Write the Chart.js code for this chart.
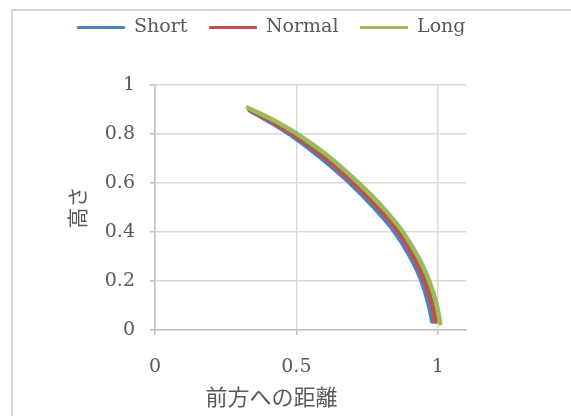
<!DOCTYPE html>
<html>
<head>
<meta charset="utf-8">
<script src="https://cdn.jsdelivr.net/npm/chart.js@4"></script>
<style>
  html, body { margin: 0; padding: 0; background: #fff; overflow: hidden; }
  #wrap { position: relative; width: 571px; height: 416px; }
  #c { position: absolute; left: 0; top: 0; }
  #frame {
    position: absolute; left: 11px; top: 9px; width: 600px; height: 450px;
    border-top: 2px solid #d4d4d4; border-left: 2px solid #d9d9d9;
    pointer-events: none;
  }
</style>
</head>
<body>
<div id="wrap"><canvas id="c" width="571" height="416"></canvas><div id="frame"></div></div>
<script>
// Trajectory curves: forward distance (x) vs height (y)
const seriesNames = ['Short', 'Normal', 'Long'];
const seriesColors = ['#4f81bd', '#c0504d', '#9bbb59'];

const shortX  = [0.336, 0.42, 0.50, 0.59, 0.69, 0.775, 0.848, 0.902, 0.943, 0.969, 0.981];
const shortY  = [0.896, 0.840, 0.780, 0.700, 0.600, 0.500, 0.400, 0.300, 0.200, 0.100, 0.034];
const normalX = [0.333, 0.42, 0.50, 0.60, 0.703, 0.79, 0.862, 0.915, 0.955, 0.982, 0.993];
const normalY = [0.900, 0.846, 0.790, 0.705, 0.600, 0.500, 0.400, 0.300, 0.200, 0.100, 0.034];
const longX   = [0.328, 0.42, 0.50, 0.61, 0.720, 0.806, 0.877, 0.930, 0.970, 0.997, 1.009];
const longY   = [0.907, 0.856, 0.802, 0.712, 0.600, 0.500, 0.400, 0.300, 0.200, 0.100, 0.027];

const xTicks = [0, 0.5, 1];
const yTicks = [0, 0.2, 0.4, 0.6, 0.8, 1];
const xTitle = '前方への距離';
const yTitle = '高さ';

const toPoints = (xs, ys) => xs.map((x, i) => ({ x: x, y: ys[i] }));
const seriesPoints = [toPoints(shortX, shortY), toPoints(normalX, normalY), toPoints(longX, longY)];
const tickText = v => String(Number(v.toFixed(2)));

const textColor = '#595959';
const serif = "'DejaVu Serif', 'Liberation Serif', serif";
const cjk = "'Noto Sans CJK JP', sans-serif";

// White canvas background
const backgroundPlugin = {
  id: 'whiteBackground',
  beforeDraw(chart) {
    const ctx = chart.ctx;
    ctx.save();
    ctx.fillStyle = '#ffffff';
    ctx.fillRect(0, 0, chart.width, chart.height);
    ctx.restore();
  }
};

// Fixed legend band height so the plot starts at the same place every time
const legendBandPlugin = {
  id: 'legendBand',
  afterInit(chart) {
    const lg = chart.legend;
    if (!lg) return;
    const origFit = lg.fit.bind(lg);
    lg.fit = function () {
      origFit();
      this.height = 89;
    };
  }
};

new Chart(document.getElementById('c'), {
  type: 'scatter',
  data: {
    datasets: seriesNames.map((name, i) => ({
      label: name,
      data: seriesPoints[i],
      showLine: true,
      borderColor: seriesColors[i],
      backgroundColor: seriesColors[i],
      borderWidth: 4.5,
      borderCapStyle: 'round',
      pointRadius: 0,
      pointHoverRadius: 0,
      cubicInterpolationMode: 'monotone',
      order: seriesNames.length - 1 - i,
      yAxisID: 'y'
    }))
  },
  options: {
    responsive: false,
    animation: false,
    layout: { padding: { top: -4, right: 28, bottom: 0, left: 0 } },
    plugins: {
      tooltip: { enabled: false },
      legend: {
        position: 'top',
        labels: {
          boxWidth: 47,
          boxHeight: 2,
          padding: 22,
          color: textColor,
          font: { family: serif, size: 19 },
          sort: (a, b) => a.datasetIndex - b.datasetIndex,
          generateLabels(chart) {
            return chart.data.datasets.map((ds, i) => ({
              text: ds.label,
              fillStyle: ds.borderColor,
              strokeStyle: ds.borderColor,
              lineWidth: 1,
              hidden: false,
              datasetIndex: i,
              fontColor: textColor
            }));
          }
        }
      },
      title: {
        display: true,
        position: 'bottom',
        text: xTitle,
        color: textColor,
        font: { family: cjk, size: 22, weight: 'normal' },
        padding: { top: 0, bottom: 6 }
      }
    },
    scales: {
      x: {
        type: 'linear',
        min: 0,
        max: 1.1,
        afterBuildTicks(scale) { scale.ticks = xTicks.map(v => ({ value: v })); },
        afterFit(scale) { scale.height = 53.6; },
        ticks: {
          color: textColor,
          font: { family: serif, size: 19 },
          padding: 21,
          maxRotation: 0,
          callback: tickText
        },
        grid: { color: '#d9d9d9', lineWidth: 1.5, tickLength: 5, tickColor: '#bfbfbf' },
        border: { color: '#bfbfbf', width: 1.5 }
      },
      y: {
        type: 'linear',
        position: 'left',
        min: 0,
        max: 1,
        afterBuildTicks(scale) { scale.ticks = yTicks.map(v => ({ value: v })); },
        afterFit(scale) { scale.width = 155; },
        ticks: {
          color: textColor,
          font: { family: serif, size: 19 },
          padding: 15,
          callback: tickText
        },
        grid: { color: '#d9d9d9', lineWidth: 1.5, tickLength: 5, tickColor: '#bfbfbf' },
        border: { color: '#bfbfbf', width: 1.5 },
        title: {
          display: true,
          text: yTitle,
          color: textColor,
          font: { family: cjk, size: 21, weight: 'normal' },
          padding: { top: 64, bottom: 0 }
        }
      },
      rightSpace: {
        type: 'linear',
        position: 'right',
        display: true,
        grid: { display: false, drawTicks: false },
        border: { display: false },
        ticks: { display: false },
        afterFit(scale) { scale.width = 77; }
      }
    }
  },
  plugins: [backgroundPlugin, legendBandPlugin]
});
</script>
</body>
</html>
